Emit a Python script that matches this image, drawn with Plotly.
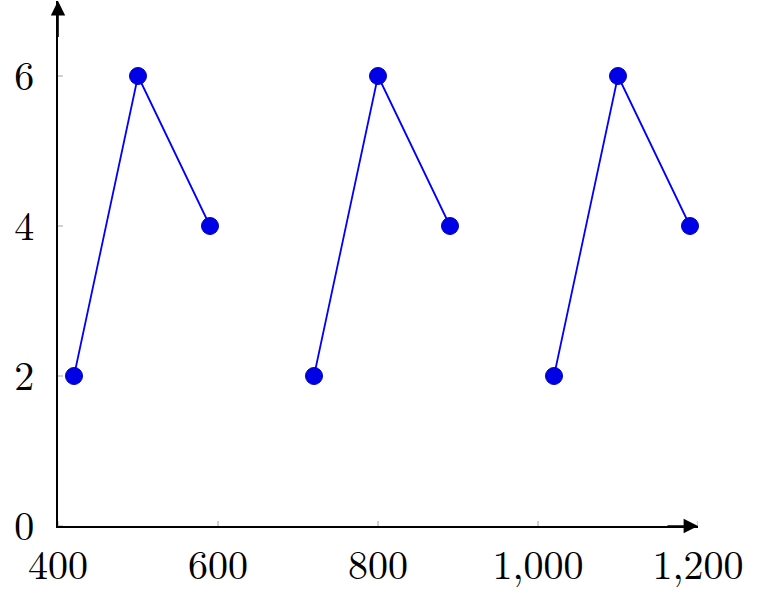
import plotly.graph_objects as go

# Data (None separates the three segments)
x_vals = [420, 500, 590, None, 720, 800, 890, None, 1020, 1100, 1190]
y_vals = [2, 6, 4, None, 2, 6, 4, None, 2, 6, 4]

x_ticks = [400, 600, 800, 1000, 1200]
y_ticks = [0, 2, 4, 6]
x_range = [400, 1200]
y_range = [0, 7]

FONT = "Latin Modern Roman, Liberation Serif, serif"

fig = go.Figure()
fig.add_trace(go.Scatter(
    x=x_vals, y=y_vals, mode="lines+markers", connectgaps=False,
    line=dict(color="#0000FF", width=1.8),
    marker=dict(color="#0000E6", size=17, line=dict(color="#0000CC", width=1)),
    hoverinfo="skip", showlegend=False, cliponaxis=False,
))

shapes = []
for t in x_ticks:
    shapes.append(dict(type="line", xref="x", yref="y", ysizemode="pixel", yanchor=y_range[0],
                       x0=t, x1=t, y0=-5, y1=5, line=dict(color="#b3b3b3", width=1.2), layer="below"))
for t in y_ticks:
    shapes.append(dict(type="line", xref="x", yref="y", xsizemode="pixel", xanchor=x_range[0],
                       y0=t, y1=t, x0=-5, x1=5, line=dict(color="#b3b3b3", width=1.2), layer="below"))

annotations = [
    dict(x=x_range[1], y=y_range[0], ax=x_range[1] - 40, ay=y_range[0], xref="x", yref="y",
         axref="x", ayref="y", showarrow=True, arrowhead=2, arrowsize=1.8, arrowwidth=1.6,
         arrowcolor="black", text=""),
    dict(x=x_range[0], y=y_range[1], ax=x_range[0], ay=y_range[1] - 0.5, xref="x", yref="y",
         axref="x", ayref="y", showarrow=True, arrowhead=2, arrowsize=1.8, arrowwidth=1.6,
         arrowcolor="black", text=""),
]

fig.update_layout(
    width=759, height=599,
    margin=dict(l=58, r=61, t=1, b=73),
    paper_bgcolor="white", plot_bgcolor="white",
    font=dict(family=FONT, size=40, color="black"),
    shapes=shapes, annotations=annotations,
    xaxis=dict(range=x_range, tickvals=x_ticks, tickformat=",", showgrid=False, zeroline=False,
               showline=True, linecolor="black", linewidth=1.6, ticks="", ticklabelstandoff=3,
               automargin=False, fixedrange=True),
    yaxis=dict(range=y_range, tickvals=y_ticks, showgrid=False, zeroline=False,
               showline=True, linecolor="black", linewidth=1.6, ticks="", ticklabelstandoff=14,
               automargin=False, fixedrange=True),
)

fig.write_html("out.html", config={"displayModeBar": False},
               post_script="document.body.style.margin='0';")
